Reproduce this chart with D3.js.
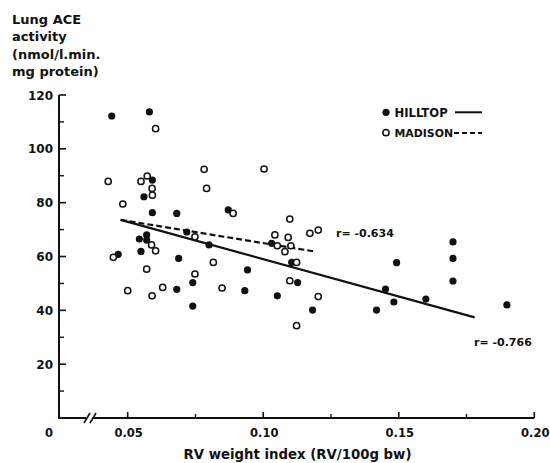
<!DOCTYPE html>
<html>
<head>
<meta charset="utf-8">
<script src="https://cdn.jsdelivr.net/npm/d3@7/dist/d3.min.js"></script>
<style>
  html, body { margin: 0; padding: 0; background: #fff; }
  svg text { font-family: "DejaVu Sans", "Liberation Sans", Arial, sans-serif; font-weight: bold; fill: #111; }
</style>
</head>
<body>
<svg id="chart" width="550" height="463"></svg>
<script>
// ---- data ----
const hilltopX = [0.0441, 0.058, 0.0591, 0.056, 0.0591, 0.0681, 0.0871, 0.0718, 0.057, 0.0543,
  0.057, 0.080, 0.0465, 0.0549, 0.0688, 0.0681, 0.074, 0.074, 0.0942, 0.1031,
  0.1105, 0.1127, 0.0932, 0.1052, 0.1182, 0.1418, 0.1492, 0.170, 0.170, 0.170,
  0.1451, 0.1482, 0.160, 0.1899];
const hilltopY = [112.2, 113.7, 88.4, 82.2, 76.3, 76.0, 77.3, 69.1, 68.0, 66.5,
  66.1, 64.3, 60.8, 61.9, 59.3, 47.8, 50.3, 41.6, 55.0, 64.9,
  57.8, 50.3, 47.3, 45.4, 40.1, 40.1, 57.7, 65.4, 59.3, 50.9,
  47.9, 43.1, 44.2, 42.0];
const madisonX = [0.0603, 0.0428, 0.0549, 0.0572, 0.059, 0.0591, 0.0482, 0.0782, 0.0791, 0.0889,
  0.0748, 0.0588, 0.0603, 0.0447, 0.057, 0.0816, 0.0748, 0.050, 0.059, 0.0629,
  0.0848, 0.1003, 0.1098, 0.1043, 0.1092, 0.1172, 0.1203, 0.1052, 0.1102, 0.108,
  0.1123, 0.1098, 0.1203, 0.1123];
const madisonY = [107.5, 87.9, 87.9, 89.9, 85.3, 82.8, 79.5, 92.4, 85.3, 76.0,
  67.3, 64.3, 62.1, 59.7, 55.3, 57.8, 53.5, 47.3, 45.4, 48.5,
  48.3, 92.5, 73.9, 68.0, 67.1, 68.6, 69.8, 64.0, 64.0, 61.8,
  57.8, 51.0, 45.1, 34.3];
// regression lines (endpoints)
const hilltopFitX = [0.0474, 0.178];
const hilltopFitY = [73.6, 37.4];
const madisonFitX = [0.0474, 0.1194];
const madisonFitY = [73.6, 61.8];
const yTicks = [20, 40, 60, 80, 100, 120];
const yMinorTicks = [10, 30, 50, 70, 90, 110];
const xTicks = [0.05, 0.10, 0.15, 0.20];
const xTickLabels = ["0.05", "0.10", "0.15", "0.20"];
const xMinorTicks = [0.075, 0.125, 0.175];
const yTitleLines = ["Lung ACE", "activity", "(nmol/l.min.", "mg protein)"];
const seriesNames = ["HILLTOP", "MADISON"];
const rLabels = ["r= -0.634", "r= -0.766"];

// ---- scales ----
const svg = d3.select("#chart");
const axisX0 = 59;
const x = d3.scaleLinear().domain([0.05, 0.20]).range([127.7, 534.3]);
const y = d3.scaleLinear().domain([0, 120]).range([418, 95]);
const ink = "#111";

// y axis
svg.append("line").attr("x1", axisX0).attr("x2", axisX0)
  .attr("y1", y(0)).attr("y2", y(120)).attr("stroke", ink).attr("stroke-width", 2);
svg.selectAll(".ytick").data(yTicks).join("line")
  .attr("x1", axisX0).attr("x2", axisX0 + 7)
  .attr("y1", d => y(d)).attr("y2", d => y(d)).attr("stroke", ink).attr("stroke-width", 1.6);
svg.selectAll(".ymtick").data(yMinorTicks).join("line")
  .attr("x1", axisX0).attr("x2", axisX0 + 5)
  .attr("y1", d => y(d)).attr("y2", d => y(d)).attr("stroke", ink).attr("stroke-width", 1.4);
svg.selectAll(".ylab").data(yTicks).join("text")
  .attr("x", 53).attr("y", d => y(d) + 4.5)
  .attr("text-anchor", "end").attr("font-size", 12).text(d => d);

// x axis with break
svg.append("line").attr("x1", axisX0 - 1).attr("x2", 86)
  .attr("y1", y(0)).attr("y2", y(0)).attr("stroke", ink).attr("stroke-width", 2);
svg.append("line").attr("x1", 93).attr("x2", x(0.20))
  .attr("y1", y(0)).attr("y2", y(0)).attr("stroke", ink).attr("stroke-width", 2);
[84, 90].forEach(bx => {
  svg.append("line").attr("x1", bx).attr("x2", bx + 6)
    .attr("y1", y(0) + 5).attr("y2", y(0) - 5).attr("stroke", ink).attr("stroke-width", 1.6);
});
svg.selectAll(".xtick").data(xTicks).join("line")
  .attr("x1", d => x(d)).attr("x2", d => x(d))
  .attr("y1", y(0)).attr("y2", y(0) - 6).attr("stroke", ink).attr("stroke-width", 1.6);
svg.selectAll(".xmtick").data(xMinorTicks).join("line")
  .attr("x1", d => x(d)).attr("x2", d => x(d))
  .attr("y1", y(0)).attr("y2", y(0) - 4).attr("stroke", ink).attr("stroke-width", 1.4);
svg.selectAll(".xlab").data(xTicks).join("text")
  .attr("x", d => x(d) + 1).attr("y", 436.5)
  .attr("text-anchor", "middle").attr("font-size", 11.5).text((d, i) => xTickLabels[i]);
svg.append("text").attr("x", 49).attr("y", 436.5).attr("text-anchor", "middle")
  .attr("font-size", 11.5).text("0");

// titles
svg.append("text").attr("x", 297.5).attr("y", 458.5).attr("text-anchor", "middle")
  .attr("font-size", 13.3).text("RV weight index (RV/100g bw)");
svg.selectAll(".ytitle").data(yTitleLines).join("text")
  .attr("x", 12).attr("y", (d, i) => 24 + i * 17.3)
  .attr("font-size", 13).text(d => d);

// regression lines
const lineGen = d3.line().x(d => x(d[0])).y(d => y(d[1]));
svg.append("path").datum(d3.zip(hilltopFitX, hilltopFitY))
  .attr("d", lineGen).attr("fill", "none").attr("stroke", ink).attr("stroke-width", 2.2);
svg.append("path").datum(d3.zip(madisonFitX, madisonFitY))
  .attr("d", lineGen).attr("fill", "none").attr("stroke", ink).attr("stroke-width", 2.2)
  .attr("stroke-dasharray", "6,3");

// points
svg.selectAll(".hill").data(d3.zip(hilltopX, hilltopY)).join("circle")
  .attr("cx", d => x(d[0])).attr("cy", d => y(d[1])).attr("r", 3.6).attr("fill", ink);
svg.selectAll(".mad").data(d3.zip(madisonX, madisonY)).join("circle")
  .attr("cx", d => x(d[0])).attr("cy", d => y(d[1])).attr("r", 3.1)
  .attr("fill", "#fff").attr("stroke", ink).attr("stroke-width", 1.5);

// r labels
svg.append("text").attr("x", 336).attr("y", 237).attr("font-size", 11).text(rLabels[0]);
svg.append("text").attr("x", 474).attr("y", 345.5).attr("font-size", 11).text(rLabels[1]);

// legend
svg.append("circle").attr("cx", 386).attr("cy", 112.3).attr("r", 3.6).attr("fill", ink);
svg.append("text").attr("x", 394.5).attr("y", 116.5).attr("font-size", 11.6).text(seriesNames[0]);
svg.append("line").attr("x1", 455).attr("x2", 482).attr("y1", 112.3).attr("y2", 112.3)
  .attr("stroke", ink).attr("stroke-width", 2);
svg.append("circle").attr("cx", 386).attr("cy", 132.7).attr("r", 3.1)
  .attr("fill", "#fff").attr("stroke", ink).attr("stroke-width", 1.5);
svg.append("text").attr("x", 394.5).attr("y", 137).attr("font-size", 10.9).text(seriesNames[1]);
svg.append("line").attr("x1", 454).attr("x2", 482).attr("y1", 133).attr("y2", 133)
  .attr("stroke", ink).attr("stroke-width", 2).attr("stroke-dasharray", "5,3");
</script>
</body>
</html>
